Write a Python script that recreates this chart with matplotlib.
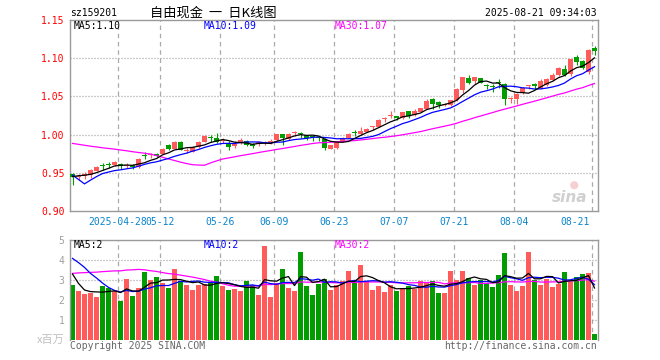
import matplotlib
matplotlib.use("Agg")
import matplotlib.pyplot as plt
import numpy as np
import pandas as pd

plt.rcParams['font.family'] = ['DejaVu Sans Mono', 'Noto Sans CJK SC']

# ---------------- data ----------------
opens = [0.949, 0.944, 0.946, 0.947, 0.953, 0.960, 0.961, 0.9605, 0.9618, 0.959,
         0.9596, 0.9574, 0.973, 0.973, 0.975, 0.975, 0.9868, 0.9816, 0.9908, 0.979,
         0.9777, 0.9834, 0.9908, 0.997, 0.9956, 0.991, 0.9895, 0.9846, 0.989, 0.9921,
         0.9877, 0.9888, 0.989, 0.989, 0.993, 1.0004, 0.9943, 1.0018, 1.0013, 0.9991,
         0.9972, 0.9958, 0.9943, 0.9816, 0.9825, 0.9912, 0.9956, 1.0024, 1.0009, 1.004,
         1.0099, 1.0106, 1.0206, 1.0239, 1.0245, 1.0219, 1.0307, 1.0263, 1.0298, 1.0338,
         1.0461, 1.043, 1.0393, 1.0386, 1.0447, 1.059, 1.0746, 1.0702, 1.0737, 1.0638,
         1.063, 1.0682, 1.0658, 1.0467, 1.0461, 1.0548, 1.0634, 1.0667, 1.0614, 1.0649,
         1.0715, 1.078, 1.0864, 1.0789, 1.1017, 1.0965, 1.082, 1.1128]
highs = [0.950, 0.948, 0.951, 0.955, 0.959, 0.963, 0.964, 0.965, 0.963, 0.963,
         0.961, 0.969, 0.9768, 0.976, 0.976, 0.982, 0.988, 0.991, 0.991, 0.9825,
         0.985, 0.991, 1.000, 0.999, 1.0017, 0.995, 0.991, 0.991, 0.995, 0.993,
         0.989, 0.991, 0.991, 0.9943, 1.001, 1.001, 1.002, 1.0044, 1.004, 1.000,
         1.000, 0.9978, 0.995, 0.987, 0.991, 0.997, 1.002, 1.0057, 1.0097, 1.009,
         1.0114, 1.021, 1.0232, 1.0307, 1.025, 1.030, 1.031, 1.0329, 1.035, 1.046,
         1.0474, 1.0439, 1.0417, 1.045, 1.061, 1.0755, 1.078, 1.0755, 1.074, 1.0667,
         1.066, 1.0724, 1.068, 1.0496, 1.0548, 1.0623, 1.0645, 1.068, 1.0724, 1.0746,
         1.081, 1.0886, 1.0908, 1.0996, 1.104, 1.097, 1.1118, 1.116]
lows = [0.934, 0.940, 0.942, 0.943, 0.952, 0.954, 0.956, 0.959, 0.955, 0.956,
        0.955, 0.956, 0.9684, 0.969, 0.971, 0.975, 0.980, 0.981, 0.980, 0.976,
        0.977, 0.983, 0.990, 0.990, 0.9886, 0.989, 0.980, 0.9825, 0.988, 0.9846,
        0.9825, 0.9855, 0.987, 0.988, 0.992, 0.9864, 0.993, 0.9978, 0.9956, 0.993,
        0.9917, 0.9912, 0.9803, 0.9812, 0.981, 0.990, 0.995, 0.9978, 1.000, 1.003,
        1.0062, 1.010, 1.0162, 1.0215, 1.0197, 1.021, 1.0219, 1.024, 1.029, 1.0329,
        1.0329, 1.0351, 1.0373, 1.038, 1.044, 1.055, 1.066, 1.066, 1.067, 1.0592,
        1.0557, 1.0614, 1.0386, 1.0417, 1.0395, 1.0536, 1.0592, 1.0601, 1.0592, 1.0636,
        1.0702, 1.0772, 1.0768, 1.0768, 1.0908, 1.0855, 1.079, 1.104]
closes = [0.945, 0.946, 0.948, 0.954, 0.958, 0.959, 0.960, 0.9636, 0.9583, 0.960,
          0.957, 0.9684, 0.972, 0.974, 0.9715, 0.9816, 0.9816, 0.9908, 0.9803, 0.980,
          0.9834, 0.990, 0.9987, 0.996, 0.9899, 0.993, 0.9834, 0.9881, 0.9934, 0.9868,
          0.9846, 0.9893, 0.9895, 0.9921, 1.0004, 0.9952, 1.0013, 1.0022, 1.0009, 0.9952,
          0.9969, 0.9956, 0.9825, 0.986, 0.9899, 0.9956, 1.0013, 1.002, 1.0053, 1.0079,
          1.0103, 1.0197, 1.0211, 1.0245, 1.0219, 1.0294, 1.025, 1.0307, 1.0342, 1.0439,
          1.0404, 1.0386, 1.0399, 1.0447, 1.0601, 1.0755, 1.068, 1.0755, 1.068, 1.0634,
          1.0625, 1.0678, 1.0461, 1.0471, 1.0526, 1.0614, 1.0638, 1.0636, 1.0702, 1.0733,
          1.0776, 1.0877, 1.0776, 1.0996, 1.0952, 1.0877, 1.111, 1.1088]
volumes = [2.75, 2.45, 2.3, 2.37, 2.15, 2.7, 2.62, 2.45, 1.95, 3.05,
           2.2, 2.58, 3.4, 3.0, 3.15, 2.85, 2.6, 3.55, 2.95, 2.75,
           2.5, 2.75, 2.8, 2.9, 3.2, 2.7, 2.5, 2.55, 2.45, 2.95,
           2.75, 2.25, 4.7, 2.15, 2.85, 3.55, 2.6, 2.45, 4.4, 2.7,
           2.25, 2.8, 3.05, 2.5, 2.75, 2.95, 3.45, 2.95, 3.75, 2.95,
           2.5, 2.7, 2.4, 2.75, 2.45, 2.55, 2.7, 2.55, 2.95, 2.85,
           2.95, 2.35, 2.35, 3.45, 3.0, 3.45, 3.1, 2.75, 3.0, 2.85,
           2.65, 3.25, 4.35, 2.75, 2.45, 2.7, 4.4, 3.0, 2.75, 3.05,
           2.65, 2.8, 3.4, 2.9, 3.15, 3.3, 3.35, 0.3]
# closes / volumes of the 29 sessions before the window (only visible through the MA lines)
hist_closes = [0.982, 0.985, 0.990, 0.988, 0.992, 0.986, 0.990, 0.992, 0.990,
               0.995, 0.998, 1.002, 1.008,
               1.030, 1.045, 1.050, 1.052, 1.045, 1.035, 1.029,
               1.003, 1.006, 0.905, 0.912, 0.919, 0.940, 0.945, 0.948, 0.947]
hist_volumes = [1.7, 1.9, 2.0, 1.8, 1.9, 2.1, 1.85, 1.95, 1.8, 1.9, 1.92,
                4.0, 4.4, 4.2, 4.6, 4.1, 4.3, 4.5, 4.2, 3.98,
                4.55, 4.7, 5.37, 4.45, 5.23, 4.8, 3.95, 2.77, 2.23]
holidays = ["2025-05-01", "2025-05-02", "2025-05-05", "2025-06-02"]
tick_dates = ["2025-04-28", "2025-05-12", "2025-05-26", "2025-06-09", "2025-06-23",
              "2025-07-07", "2025-07-21", "2025-08-04", "2025-08-21"]
tick_labels = ["2025-04-28", "05-12", "05-26", "06-09", "06-23",
               "07-07", "07-21", "08-04", "08-21"]
price_ticks = [0.90, 0.95, 1.00, 1.05, 1.10, 1.15]
vol_ticks = [1, 2, 3, 4, 5]

# ---------------- derived ----------------
dates = pd.bdate_range("2025-04-16", "2025-08-21")
dates = dates[~dates.isin(pd.to_datetime(holidays))]
n = len(dates)
x = np.arange(n)
o = np.array(opens); h = np.array(highs); l = np.array(lows); c = np.array(closes)
v = np.array(volumes)
RED = '#ff5b5b'; GREEN = '#009c00'
colors = np.where(c >= o, RED, GREEN)

allc = pd.Series(hist_closes + closes)
allv = pd.Series(hist_volumes + volumes)
k = len(hist_closes)
pma = {p: allc.rolling(p).mean().values[k:] for p in (5, 10, 30)}
vma = {p: allv.rolling(p).mean().values[k:] for p in (5, 10, 30)}
tick_idx = [dates.get_loc(pd.Timestamp(d)) for d in tick_dates]

# ---------------- figure ----------------
W, H = 660, 360
fig = plt.figure(figsize=(W / 100, H / 100), dpi=100)
fig.patch.set_facecolor('white')

def fx(px): return px / W
def fy(py): return 1 - py / H

L, R = 70, 598
ax = fig.add_axes([fx(L), fy(211), (R - L) / W, (211 - 20) / H])
axv = fig.add_axes([fx(L), fy(340), (R - L) / W, (340 - 240) / H])

half = 5 / 12
SPINE = '#9a9a9a'
for a in (ax, axv):
    a.set_xlim(-half, n - half)
    a.set_xticks([])
    for s in a.spines.values():
        s.set_color(SPINE); s.set_linewidth(1.0)
    a.tick_params(axis='y', length=0, pad=4)
    for t in tick_idx:
        a.axvline(t - half, color='#aaaaaa', lw=0.9, ls=(0, (3.6, 3.0)), zorder=0)
axv.spines['bottom'].set_visible(False)

# price panel
ax.set_ylim(price_ticks[0], price_ticks[-1])
ax.set_yticks(price_ticks)
ax.set_yticklabels([f"{p:.2f}" for p in price_ticks], color='#ff0000', fontsize=7)
for p in price_ticks[1:-1]:
    ax.axhline(p, color='#999999', lw=0.9, ls=(0, (0.8, 1.6)), zorder=0)

ax.vlines(x, l, h, colors=colors, lw=0.8, zorder=2)
body = np.maximum(np.abs(c - o), 0.0012)
ax.bar(x, body, bottom=np.minimum(o, c), width=2 * half, color=colors, lw=0, zorder=3)
ax.plot(x, pma[30], color='#ff00ff', lw=0.9, zorder=4)
ax.plot(x, pma[10], color='#0000ff', lw=0.9, zorder=4)
ax.plot(x, pma[5], color='black', lw=0.9, zorder=4)

for t, lab in zip(tick_idx, tick_labels):
    last = (t == n - 1)
    ax.annotate(lab, xy=(t - half, 0), xycoords=('data', 'axes fraction'),
                xytext=(-1.5 if last else 0, -7.8), textcoords='offset points',
                ha='right' if last else 'center', va='center', color='#0a84cc', fontsize=7)

# watermark
ax.text(0.98, 0.07, 'sina', transform=ax.transAxes, ha='right', va='center',
        fontsize=11, fontstyle='italic', fontweight='bold', color='#d0d0d0',
        family='DejaVu Sans', zorder=1)
ax.scatter([0.955], [0.135], transform=ax.transAxes, s=34, color='#f6d0d0',
           edgecolors='none', zorder=1)

# volume panel
axv.set_ylim(0, 5)
axv.set_yticks(vol_ticks)
axv.set_yticklabels([str(t) for t in vol_ticks], color='#a0a0a0', fontsize=7)
for t in vol_ticks[:-1]:
    axv.axhline(t, color='#999999', lw=0.9, ls=(0, (0.8, 1.6)), zorder=0)
axv.bar(x, v, width=2 * half, color=colors, lw=0, zorder=2)
axv.plot(x, vma[30], color='#ff00ff', lw=0.9, zorder=4)
axv.plot(x, vma[10], color='#0000ff', lw=0.9, zorder=4)
axv.plot(x, vma[5], color='black', lw=0.9, zorder=4)

# header / legends / footer
fs = 7
fig.text(fx(70), fy(13), 'sz159201', ha='left', va='center', fontsize=fs, color='black')
fig.text(fx(150), fy(13), '自由现金  一  日K线图', ha='left', va='center', fontsize=9.5,
         color='black', family=['Noto Sans CJK SC', 'DejaVu Sans'])
fig.text(fx(597), fy(13), '2025-08-21 09:34:03', ha='right', va='center', fontsize=fs)

fig.text(fx(74), fy(26), f"MA5:{pma[5][-1]:.2f}", ha='left', va='center', fontsize=fs, color='black')
fig.text(fx(204), fy(26), f"MA10:{pma[10][-1]:.2f}", ha='left', va='center', fontsize=fs, color='#0000ff')
fig.text(fx(335), fy(26), f"MA30:{pma[30][-1]:.2f}", ha='left', va='center', fontsize=fs, color='#ff00ff')

fig.text(fx(74), fy(245.5), f"MA5:{int(vma[5][-1])}", ha='left', va='center', fontsize=fs, color='black')
fig.text(fx(204), fy(245.5), f"MA10:{int(vma[10][-1])}", ha='left', va='center', fontsize=fs, color='#0000ff')
fig.text(fx(335), fy(245.5), f"MA30:{int(vma[30][-1])}", ha='left', va='center', fontsize=fs, color='#ff00ff')

fig.text(fx(65), fy(340), 'x百万', ha='right', va='center', fontsize=8, color='#c0c0c0',
         family=['Noto Sans CJK SC', 'DejaVu Sans'])
fig.text(fx(70), fy(346), 'Copyright 2025 SINA.COM', ha='left', va='center', fontsize=fs, color='#666666')
fig.text(fx(597), fy(346), 'http://finance.sina.com.cn', ha='right', va='center', fontsize=fs, color='#666666')

fig.savefig('out.png', dpi=100, facecolor='white')
